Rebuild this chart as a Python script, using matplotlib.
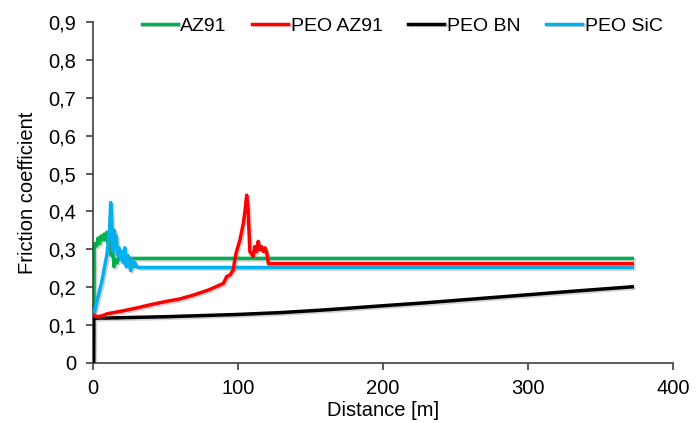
import matplotlib
matplotlib.use("Agg")
import matplotlib.pyplot as plt
import matplotlib.patheffects as pe
from matplotlib.ticker import FuncFormatter, MultipleLocator

plt.rcParams['font.family'] = ['Liberation Sans', 'DejaVu Sans']

# AZ91
az91_x = [0.7, 0.8, 1.5, 2.5, 3.5, 4.5, 5.5, 6.5, 7.5, 8.5, 9.5, 10.5, 11.5,
          12.5, 13.5, 14.5, 15.5, 16.5, 18, 20, 25, 372]
az91_y = [0.142, 0.304, 0.315, 0.309, 0.33, 0.315, 0.335, 0.325, 0.34, 0.325,
          0.345, 0.315, 0.335, 0.284, 0.304, 0.254, 0.274, 0.264, 0.279, 0.274,
          0.276, 0.276]

# PEO AZ91
peo_az91_x = [0, 3, 6, 10, 20, 30, 40, 50, 60, 70, 80, 87, 90, 92.2, 94.5, 96.8,
              98, 99, 101.4, 103.7, 105, 106, 107, 108.2, 110.5, 111.6, 112.8,
              114, 115.2, 116.4, 117.6, 118.7, 119.9, 121, 372]
peo_az91_y = [0.127, 0.122, 0.124, 0.13, 0.137, 0.145, 0.154, 0.162, 0.169, 0.18,
              0.193, 0.205, 0.21, 0.228, 0.232, 0.246, 0.277, 0.294, 0.325, 0.368,
              0.406, 0.443, 0.406, 0.294, 0.281, 0.307, 0.294, 0.321, 0.299, 0.307,
              0.294, 0.304, 0.29, 0.262, 0.262]

# PEO BN
peo_bn_x = [0.5, 0.6, 2, 50, 100, 130, 160, 200, 230, 260, 300, 330, 372]
peo_bn_y = [0.0, 0.118, 0.118, 0.122, 0.128, 0.133, 0.14, 0.151, 0.159, 0.168,
            0.18, 0.189, 0.201]

# PEO SiC
peo_sic_x = [0.5, 2, 4, 6, 8, 9.5, 10.5, 11.5, 12.2, 12.8, 13.3, 14, 14.7, 15.3,
             16, 17, 18, 19, 20, 21, 22, 23, 24, 25, 26, 27, 28, 29, 30, 32, 372]
peo_sic_y = [0.127, 0.152, 0.183, 0.213, 0.254, 0.284, 0.315, 0.355, 0.423, 0.386,
             0.325, 0.294, 0.35, 0.304, 0.335, 0.284, 0.304, 0.274, 0.294, 0.264,
             0.304, 0.254, 0.284, 0.264, 0.244, 0.274, 0.254, 0.264, 0.254, 0.252,
             0.252]

fig = plt.figure(figsize=(6.97, 4.23), dpi=100)
ax = fig.add_axes([0.1334, 0.142, 0.832, 0.806])

shadow = [pe.SimpleLineShadow(offset=(1.2, -1.2), shadow_color='gray', alpha=0.35),
          pe.Normal()]

ax.plot(az91_x, az91_y, color='#00B050', lw=2.5, label='AZ91', path_effects=shadow, zorder=2)
ax.plot(peo_sic_x, peo_sic_y, color='#00B0F0', lw=2.5, label='PEO SiC', path_effects=shadow, zorder=3)
ax.plot(peo_az91_x, peo_az91_y, color='#FF0000', lw=2.5, label='PEO AZ91', path_effects=shadow, zorder=4)
ax.plot(peo_bn_x, peo_bn_y, color='black', lw=2.5, label='PEO BN', path_effects=shadow, zorder=3)

ax.set_xlim(0, 400)
ax.set_ylim(0, 0.9)
ax.xaxis.set_major_locator(MultipleLocator(100))
ax.yaxis.set_major_locator(MultipleLocator(0.1))
ax.yaxis.set_major_formatter(FuncFormatter(lambda v, p: '0' if abs(v) < 1e-9 else f'{v:.1f}'.replace('.', ',')))

for s in ['top', 'right']:
    ax.spines[s].set_visible(False)
for s in ['left', 'bottom']:
    ax.spines[s].set_color('#404040')
    ax.spines[s].set_linewidth(1.2)
ax.tick_params(direction='out', length=5, width=1.2, color='#404040', labelsize=14.5)
ax.tick_params(axis='y', pad=7)
ax.tick_params(axis='x', pad=6.5)

ax.set_xlabel('Distance [m]', fontsize=14.5, labelpad=2)
ax.set_ylabel('Friction coefficient', fontsize=14.5, labelpad=8)

h, l = ax.get_legend_handles_labels()
order = [0, 2, 3, 1]
fig.legend([h[i] for i in order], [l[i] for i in order], ncol=4, frameon=False,
           loc='center', bbox_to_anchor=(0.577, 0.939), fontsize=14,
           handlelength=1.85, handletextpad=0.15, columnspacing=1.3)

fig.savefig('out.png', dpi=100)
